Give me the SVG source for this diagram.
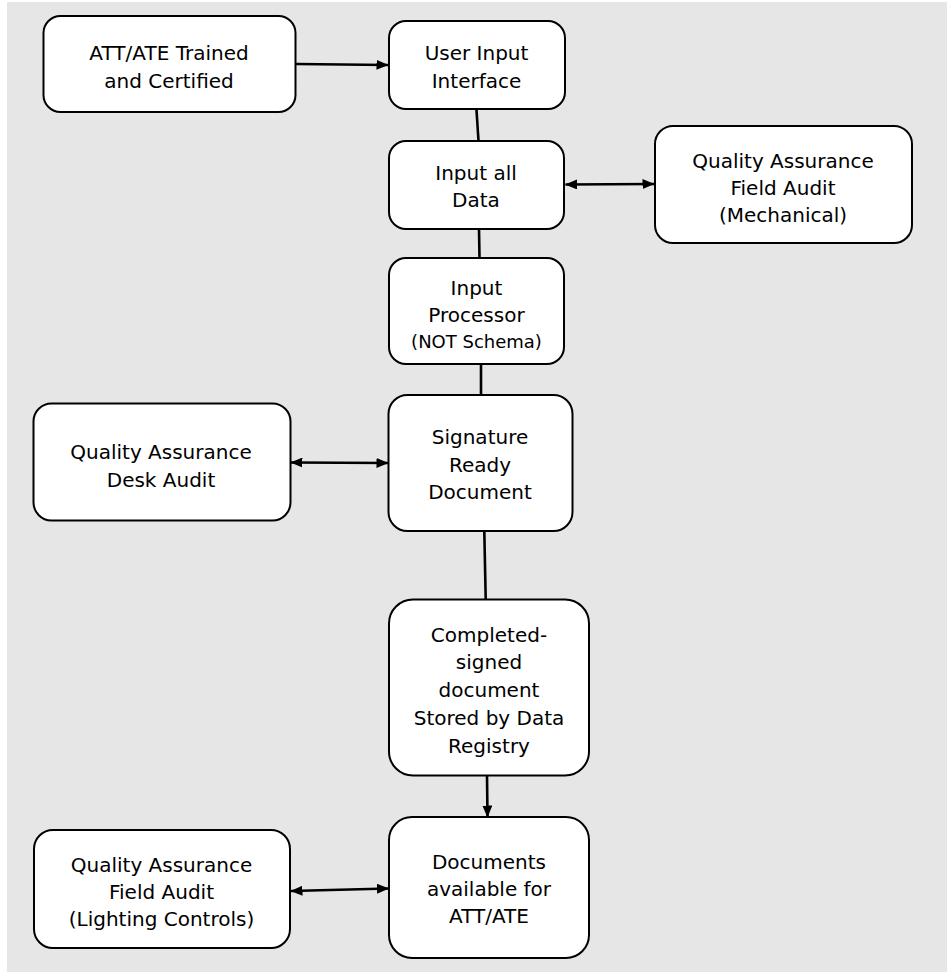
<svg xmlns="http://www.w3.org/2000/svg" width="947" height="975" viewBox="0 0 947 975">
<defs>
<style>
.box{fill:#fff;stroke:#000;stroke-width:2}
.t{font-family:"DejaVu Sans","Liberation Sans",sans-serif;font-size:20px;fill:#000;text-anchor:middle}
.s{font-size:18px}
.c{stroke:#000;stroke-width:2.6;fill:none}
</style>
<marker id="ah" viewBox="0 0 12 10" refX="11.5" refY="5" markerWidth="12" markerHeight="10" orient="auto-start-reverse" markerUnits="userSpaceOnUse">
<path d="M0,0 L12,5 L0,10 z" fill="#000"/>
</marker>
</defs>
<rect x="0" y="0" width="947" height="975" fill="#fff"/>
<rect x="7" y="2" width="940" height="970" fill="#e6e6e6"/>
<g id="connectors">
<line class="c" x1="296" y1="64" x2="388" y2="65" marker-end="url(#ah)"/>
<line class="c" x1="476.5" y1="110" x2="478.5" y2="141"/>
<line class="c" x1="565.5" y1="184.5" x2="654" y2="184" marker-start="url(#ah)" marker-end="url(#ah)"/>
<line class="c" x1="479" y1="229" x2="479.5" y2="258"/>
<line class="c" x1="481" y1="364" x2="481" y2="395"/>
<line class="c" x1="291" y1="462.5" x2="388" y2="463" marker-start="url(#ah)" marker-end="url(#ah)"/>
<line class="c" x1="484.3" y1="531" x2="485.7" y2="599"/>
<line class="c" x1="487" y1="776" x2="487.5" y2="817" marker-end="url(#ah)"/>
<line class="c" x1="291" y1="891" x2="388.5" y2="888.5" marker-start="url(#ah)" marker-end="url(#ah)"/>
</g>
<g id="n1">
<rect class="box" x="43.5" y="16" width="252" height="96" rx="17"/>
<text class="t" x="169" y="60">ATT/ATE Trained</text>
<text class="t" x="169" y="88">and Certified</text>
</g>
<g id="n2">
<rect class="box" x="389" y="21" width="176" height="88" rx="17"/>
<text class="t" x="476.5" y="60">User Input</text>
<text class="t" x="476.5" y="88">Interface</text>
</g>
<g id="n3">
<rect class="box" x="389" y="141" width="175" height="88" rx="17"/>
<text class="t" x="476" y="180">Input all</text>
<text class="t" x="476" y="207">Data</text>
</g>
<g id="n4">
<rect class="box" x="655" y="126" width="257" height="117" rx="18"/>
<text class="t" x="783" y="167.5">Quality Assurance</text>
<text class="t" x="783" y="195">Field Audit</text>
<text class="t" x="783" y="222">(Mechanical)</text>
</g>
<g id="n5">
<rect class="box" x="389" y="258" width="175" height="106" rx="17"/>
<text class="t" x="476.5" y="295">Input</text>
<text class="t" x="476.5" y="322">Processor</text>
<text class="t s" x="476.5" y="348">(NOT Schema)</text>
</g>
<g id="n6">
<rect class="box" x="388.5" y="395" width="184" height="136" rx="19"/>
<text class="t" x="480" y="444">Signature</text>
<text class="t" x="480" y="471.5">Ready</text>
<text class="t" x="480" y="499">Document</text>
</g>
<g id="n7">
<rect class="box" x="33.5" y="403.5" width="257" height="117" rx="18"/>
<text class="t" x="161" y="459">Quality Assurance</text>
<text class="t" x="161" y="487">Desk Audit</text>
</g>
<g id="n8">
<rect class="box" x="389" y="599.5" width="200" height="176" rx="24"/>
<text class="t" x="489" y="642">Completed-</text>
<text class="t" x="489" y="669">signed</text>
<text class="t" x="489" y="697">document</text>
<text class="t" x="489" y="725">Stored by Data</text>
<text class="t" x="489" y="753">Registry</text>
</g>
<g id="n9">
<rect class="box" x="389" y="817" width="200" height="141" rx="23"/>
<text class="t" x="489" y="869">Documents</text>
<text class="t" x="489" y="896">available for</text>
<text class="t" x="489" y="923">ATT/ATE</text>
</g>
<g id="n10">
<rect class="box" x="34" y="830" width="256" height="118" rx="19"/>
<text class="t" x="161.5" y="871.5">Quality Assurance</text>
<text class="t" x="161.5" y="899">Field Audit</text>
<text class="t" x="161.5" y="926">(Lighting Controls)</text>
</g>
</svg>
